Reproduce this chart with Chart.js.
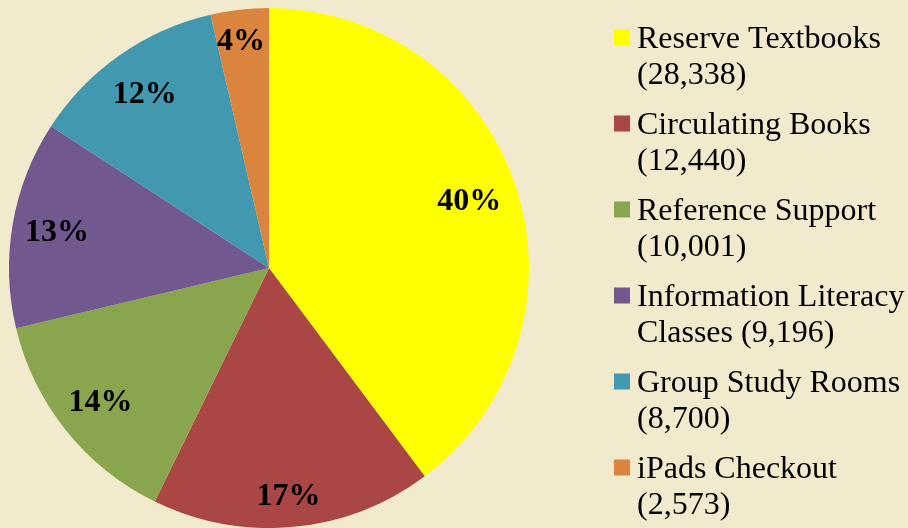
<!DOCTYPE html>
<html>
<head>
<meta charset="utf-8">
<script src="https://cdn.jsdelivr.net/npm/chart.js@4.4.0/dist/chart.umd.min.js"></script>
<style>
  html, body { margin: 0; padding: 0; background: #f2eacd; }
  #wrap { width: 908px; height: 528px; position: relative; }
</style>
</head>
<body>
<div id="wrap"><canvas id="pieChart" width="908" height="528"></canvas></div>
<script>
// Chart data
const categories = [
  'Reserve Textbooks', 'Circulating Books', 'Reference Support',
  'Information Literacy', 'Group Study Rooms', 'iPads Checkout'
];
const legendLines = [
  ['Reserve Textbooks', '(28,338)'],
  ['Circulating Books', '(12,440)'],
  ['Reference Support', '(10,001)'],
  ['Information Literacy', 'Classes (9,196)'],
  ['Group Study Rooms', '(8,700)'],
  ['iPads Checkout', '(2,573)']
];
const usage = [28338, 12440, 10001, 9196, 8700, 2573];
const sliceColors = ['#ffff00', '#aa4643', '#89a54e', '#71588f', '#4198af', '#db843d'];

// Percent labels inside the slices
const percentLabels = {
  id: 'percentLabels',
  afterDatasetsDraw(chart) {
    const {ctx} = chart;
    const meta = chart.getDatasetMeta(0);
    const total = usage.reduce((a, b) => a + b, 0);
    ctx.save();
    ctx.font = 'bold 32px "Liberation Serif", "Times New Roman", serif';
    ctx.fillStyle = '#000';
    ctx.textAlign = 'center';
    ctx.textBaseline = 'middle';
    meta.data.forEach((arc, i) => {
      const mid = (arc.startAngle + arc.endAngle) / 2;
      const r = arc.outerRadius * (i === 5 || i === 1 ? 0.88 : 0.82);
      const x = arc.x + Math.cos(mid) * r;
      const y = arc.y + Math.sin(mid) * r;
      ctx.fillText(Math.round(usage[i] / total * 100) + '%', x - 2, y + 1);
    });
    ctx.restore();
  }
};

// Legend on the right, two lines per item
const sideLegend = {
  id: 'sideLegend',
  afterDraw(chart) {
    const {ctx} = chart;
    ctx.save();
    ctx.font = '32px "Liberation Serif", "Times New Roman", serif';
    ctx.textBaseline = 'alphabetic';
    ctx.textAlign = 'left';
    legendLines.forEach((lines, i) => {
      const base = 47.5 + i * 86;
      ctx.fillStyle = sliceColors[i];
      ctx.fillRect(614, base - 18, 16, 16);
      ctx.fillStyle = '#000';
      ctx.fillText(lines[0], 637, base);
      ctx.fillText(lines[1], 637, base + 36);
    });
    ctx.restore();
  }
};

new Chart(document.getElementById('pieChart'), {
  type: 'pie',
  data: {
    labels: categories,
    datasets: [{
      data: usage,
      backgroundColor: sliceColors,
      borderWidth: 0
    }]
  },
  options: {
    responsive: false,
    animation: false,
    layout: {padding: {left: 9, right: 379, top: 8, bottom: 0}},
    plugins: {
      legend: {display: false},
      tooltip: {enabled: false}
    }
  },
  plugins: [percentLabels, sideLegend]
});
</script>
</body>
</html>
